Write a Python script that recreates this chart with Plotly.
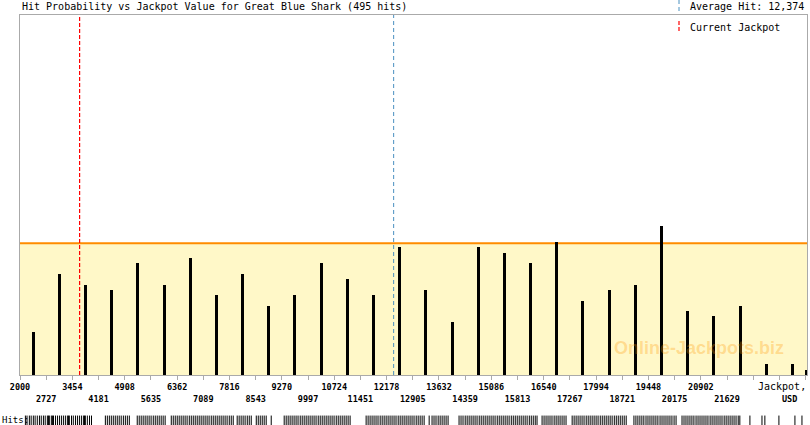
import plotly.graph_objects as go

# ---------------- data ----------------
title_text = "Hit Probability vs Jackpot Value for Great Blue Shark (495 hits)"
bin_edges = [2000, 2727, 3454, 4181, 4908, 5635, 6362, 7089, 7816, 8543, 9270, 9997,
             10724, 11451, 12178, 12905, 13632, 14359, 15086, 15813, 16540, 17267,
             17994, 18721, 19448, 20175, 20902, 21629, 22356, 23083, 23810]
bin_width = 727
hits = [8, 19, 17, 16, 21, 17, 22, 15, 19, 13, 15, 21, 18, 15, 24, 16, 10, 24, 23, 21,
        25, 14, 16, 17, 28, 12, 11, 13, 2, 2, 1]
mean_hits_per_bin = 24.75
average_hit = 12374
current_jackpot = 3655
x_max = 23850
y_max = 67.67

rug_hits = [
    2150, 2195, 2260, 2310, 2370, 2420, 2480, 2540, 2590, 2650, 2700, 2760, 2790, 2815, 2870, 2900,
    2930, 2985, 3040, 3095, 3150, 3205, 3260, 3315, 3345, 3370, 3430, 3480, 3540, 3595, 3650, 3705,
    3760, 3790, 3815, 3870, 3930, 3985,
    4370, 4425, 4480, 4535, 4590, 4645, 4700, 4755, 4810, 4870, 4925, 4980, 5035,
    5255, 5310, 5365, 5420, 5475, 5530, 5585, 5640, 5700, 5755, 5810, 5865, 5920, 5975, 6030,
    6200, 6255, 6310, 6365, 6420, 6475, 6530, 6585, 6640, 6700, 6755, 6810, 6865, 6920, 6975, 7030,
    7085, 7140, 7195, 7250, 7310, 7365, 7420, 7475, 7530, 7585, 7640, 7695, 7750, 7810, 7865, 7920,
    8030, 8085, 8140, 8195, 8250, 8310, 8365, 8420,
    8560, 8615, 8670, 8725, 8780, 8835, 8975,
    9335, 9390, 9445, 9500, 9555, 9610, 9665, 9720, 9780, 9835, 9890, 9945, 10000, 10055, 10110,
    10165, 10220, 10280, 10335, 10390, 10445, 10500, 10555, 10610, 10665, 10720, 10780, 10835,
    10890, 10945, 11000, 11055, 11110, 11165,
    11610, 11665, 11720, 11775, 11830, 11885, 11940, 12000, 12055, 12110, 12165, 12220, 12275,
    12330, 12385, 12440, 12500, 12555, 12610,
    12665, 12720, 12775, 12830, 12885, 12940, 13000, 13055, 13110, 13165, 13220, 13360,
    13440, 13495, 13550, 13610, 13665, 13720, 13775, 13830, 13885,
    14190, 14245, 14300, 14360, 14415, 14470, 14525, 14580, 14635, 14690, 14750, 14805, 14860,
    14915, 14970, 15025, 15080, 15135, 15190, 15250, 15305, 15360, 15415, 15470, 15525, 15580,
    15640, 15695, 15750, 15805, 15860, 15915, 15970, 16025, 16080, 16140, 16195, 16250, 16305, 16355,
    16495, 16550, 16605, 16660, 16715, 16770, 16830, 16885, 16940, 16995, 17050, 17105, 17160,
    17330, 17385, 17440, 17495, 17550, 17605, 17660, 17720, 17775, 17830, 17885, 17940, 17995,
    18050, 18110, 18165, 18220, 18275, 18330, 18385, 18440, 18500, 18555, 18610, 18665, 18720,
    18775, 18830,
    19045, 19100, 19155, 19210, 19265, 19320, 19380, 19435, 19490, 19545, 19600, 19655, 19710,
    19770, 19825, 19880, 19935, 19990, 20045, 20100, 20160, 20215,
    20380, 20435, 20490, 20545, 20600, 20655, 20710, 20770, 20825, 20880, 20935, 20990, 21045,
    21100, 21160, 21215, 21270, 21325, 21380, 21435, 21490, 21550, 21605, 21660, 21715, 21770,
    21825, 21880, 21940, 21985,
    22265, 22600, 22680, 23070, 23515, 23710,
]

# ---------------- layout helpers ----------------
W, H = 810, 425
ML, MR, MT, MB = 20, 3, 15, 0
PW, PH = W - ML - MR, H - MT - MB


def px_x(px):
    return (px - ML) / PW


def px_y(py):
    return (H - MB - py) / PH


main_bottom = px_y(375)
mono = "DejaVu Sans Mono"

# bar centres: middle of each bin, last (overflow) bin at its left edge
bar_x = [e + bin_width / 2 for e in bin_edges[:-1]] + [bin_edges[-1] + 21]

even_vals = [bin_edges[i] for i in range(0, 28, 2)]
odd_vals = [bin_edges[i] for i in range(1, 28, 2)]

fig = go.Figure()

# bars
fig.add_trace(go.Bar(
    x=bar_x, y=hits, width=83, marker=dict(color="black", line=dict(width=0))))

# dummy trace for second tick-label row
fig.add_trace(go.Scatter(x=[bin_edges[0]], y=[0], xaxis="x2", yaxis="y",
                         mode="markers", marker=dict(opacity=0), hoverinfo="skip"))

# rug of individual hits
fig.add_trace(go.Scatter(
    x=rug_hits, y=[0.37] * len(rug_hits), xaxis="x", yaxis="y2", mode="markers",
    marker=dict(symbol="line-ns", size=7, line=dict(width=1, color="black"), color="black"),
    hoverinfo="skip"))

shapes = [
    # mean band (yellow fill + orange line) below the bars
    dict(type="rect", xref="x", yref="y", x0=bin_edges[0], x1=x_max, y0=0,
         y1=mean_hits_per_bin, fillcolor="#FFF8C8", line=dict(width=0), layer="below"),
    dict(type="line", xref="x", yref="y", x0=bin_edges[0], x1=x_max,
         y0=mean_hits_per_bin, y1=mean_hits_per_bin,
         line=dict(color="#FF8C00", width=2), layer="below"),
    dict(type="line", xref="x", yref="y domain", x0=current_jackpot, x1=current_jackpot,
         y0=0, y1=1, line=dict(color="#FF0000", width=1.2, dash="4px,2px"), layer="above"),
    dict(type="line", xref="x", yref="y domain", x0=average_hit, x1=average_hit,
         y0=0, y1=1, line=dict(color="#4A90C0", width=1, dash="4px,3px"), layer="above"),
    dict(type="line", xref="paper", yref="paper", x0=px_x(679), x1=px_x(679),
         y0=px_y(0), y1=px_y(12), line=dict(color="#4A90C0", width=1, dash="4px,3px")),
    dict(type="line", xref="paper", yref="paper", x0=px_x(679), x1=px_x(679),
         y0=px_y(21), y1=px_y(32), line=dict(color="#FF0000", width=1.2, dash="4px,2px")),
]

annotations = [
    dict(text=title_text, x=px_x(20), y=px_y(7), xanchor="left", yanchor="middle",
         font=dict(family=mono, size=10, color="black")),
    dict(text="Average Hit: " + f"{average_hit:,}", x=px_x(688), y=px_y(7), xanchor="left",
         yanchor="middle", font=dict(family=mono, size=10, color="black")),
    dict(text="Current Jackpot", x=px_x(688), y=px_y(27), xanchor="left", yanchor="middle",
         font=dict(family=mono, size=10, color="black")),
    dict(text="Jackpot,", x=px_x(808), y=px_y(386), xanchor="right", yanchor="middle",
         font=dict(family=mono, size=10, color="black")),
    dict(text="<b>USD</b>", x=px_x(799), y=px_y(398.5), xanchor="right", yanchor="middle",
         font=dict(family=mono, size=8.5, color="black")),
    dict(text="Hits:", x=px_x(0), y=px_y(420), xanchor="left", yanchor="middle",
         font=dict(family=mono, size=9, color="black")),
    dict(text="<b>Online-Jackpots.biz</b>", x=px_x(699), y=px_y(348), xanchor="center",
         yanchor="middle", font=dict(family="Liberation Sans, Arial", size=18,
                                     color="rgba(255,150,0,0.30)")),
]
for a in annotations:
    a.update(xref="paper", yref="paper", showarrow=False)

fig.update_layout(
    width=W, height=H, margin=dict(l=ML, r=MR, t=MT, b=MB, pad=0),
    paper_bgcolor="white", plot_bgcolor="white", showlegend=False, bargap=0,
    xaxis=dict(range=[bin_edges[0], x_max], domain=[0, 1], anchor="y",
               tickmode="array", tickvals=bin_edges,
               ticktext=[str(v) if v in even_vals else "" for v in bin_edges],
               ticks="outside", ticklen=4, tickcolor="#AAAAAA", tickwidth=1,
               showline=True, linecolor="#AAAAAA", linewidth=1, mirror=True,
               showgrid=False, zeroline=False, automargin=False,
               tickfont=dict(family=mono, size=8.5, color="black", weight="bold")),
    xaxis2=dict(overlaying="x", matches="x", anchor="y", side="bottom",
                tickmode="array", tickvals=odd_vals, ticktext=[str(v) for v in odd_vals],
                ticks="", showline=False, showgrid=False, zeroline=False,
                automargin=False, ticklabelstandoff=17,
                tickfont=dict(family=mono, size=8.5, color="black", weight="bold")),
    yaxis=dict(range=[0, y_max], domain=[main_bottom, 1], anchor="x",
               showticklabels=False, ticks="", showline=True, linecolor="#AAAAAA",
               linewidth=1, mirror=True, showgrid=False, zeroline=False),
    yaxis2=dict(range=[0, 1], domain=[0, 0.03], anchor="x", visible=False),
    shapes=shapes, annotations=annotations,
)

fig.write_html("out.html", config={"displayModeBar": False},
               post_script="document.body.style.margin='0';")
